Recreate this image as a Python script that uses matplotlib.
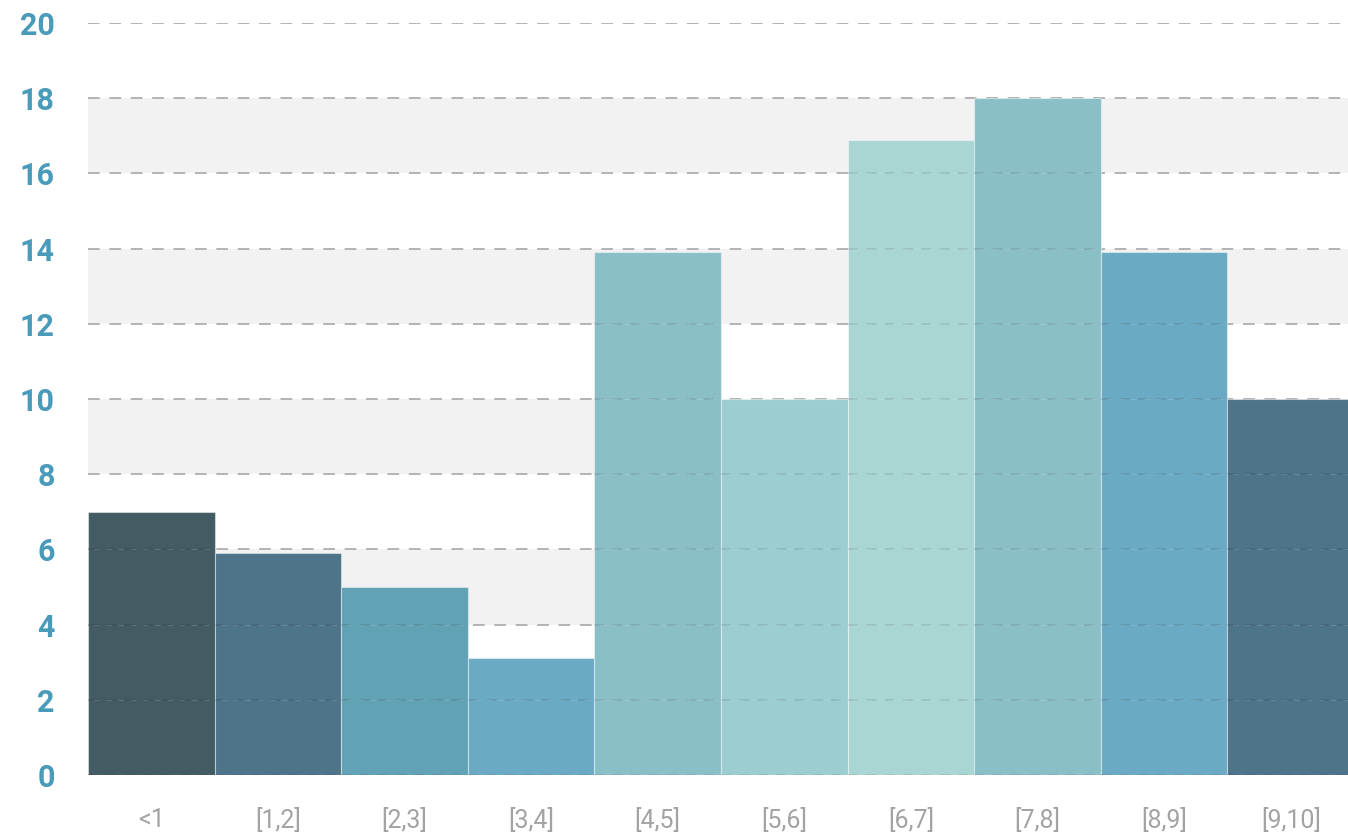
import matplotlib.pyplot as plt
import numpy as np

# data
categories = ['<1', '[1,2]', '[2,3]', '[3,4]', '[4,5]', '[5,6]', '[6,7]', '[7,8]', '[8,9]', '[9,10]']
values = [7, 5.9, 5, 3.1, 13.9, 10, 16.9, 18, 13.9, 10]
bar_colors = ['#435c63', '#4e7489', '#61a2b4', '#6aaac4', '#8bbfc8',
              '#9bcdd1', '#a9d6d2', '#8bbfc8', '#6aaac4', '#4e7489']
y_ticks = [0, 2, 4, 6, 8, 10, 12, 14, 16, 18, 20]

W, H = 1348, 839
fig = plt.figure(figsize=(W / 100, H / 100), dpi=100)
# last bar runs off the right edge in the original
ax = fig.add_axes([88 / W, (H - 775) / H, 1266 / W, (775 - 23) / H])

# alternating grey bands
for lo in range(0, 20, 4):
    ax.axhspan(lo, lo + 2, color='#f2f2f2', zorder=0, lw=0)

# dashed grid
for t in y_ticks:
    ax.axhline(t, color='#b3b3b3', lw=1.4, ls=(0, (6, 5)), zorder=1)

x = np.arange(len(categories))
ax.bar(x, values, width=1.0, color=bar_colors,
       edgecolor=(1, 1, 1, 0.45), linewidth=0.8, zorder=2)

# faint grid showing through the bars
for xi, v in zip(x, values):
    for t in y_ticks:
        if t < v:
            ax.hlines(t, xi - 0.5, xi + 0.5, color='#000000', lw=1.2,
                      ls=(0, (6, 5)), alpha=0.1, zorder=3)
            ax.hlines(t, xi - 0.5, xi + 0.5, color='#ffffff', lw=0.8,
                      ls=(6, (5, 6)), alpha=0.15, zorder=3)

ax.set_xlim(-0.5, len(categories) - 0.5)
ax.set_ylim(0, 20)
ax.set_yticks(y_ticks)
ax.set_xticks(x)
ax.set_xticklabels(categories)

for s in ax.spines.values():
    s.set_visible(False)
ax.tick_params(axis='both', length=0)
ax.tick_params(axis='y', pad=24)
ax.tick_params(axis='x', pad=24)
for lab in ax.get_yticklabels():
    lab.set_fontfamily('Roboto')
    lab.set_fontweight('bold')
    lab.set_fontsize(22)
    lab.set_color('#4a9aba')
for lab in ax.get_xticklabels():
    lab.set_fontfamily('Roboto')
    lab.set_fontweight('normal')
    lab.set_fontsize(18)
    lab.set_color('#a3a3a3')

fig.savefig('out.png', dpi=100)
